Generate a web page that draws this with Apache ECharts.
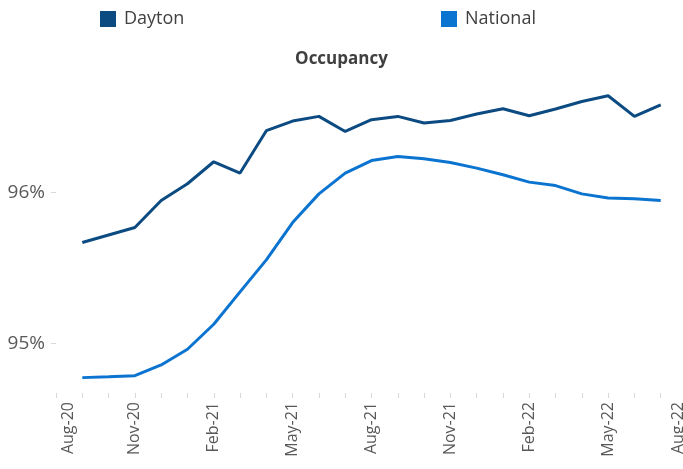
<!DOCTYPE html>
<html>
<head>
<meta charset="utf-8">
<script src="https://cdn.jsdelivr.net/npm/echarts@6/dist/echarts.min.js"></script>
<style>
  html, body { margin: 0; padding: 0; background: #fff; }
  #chart { width: 683px; height: 469px; }
</style>
</head>
<body>
<div id="chart"></div>
<script>
// months Aug-20 .. Aug-22
const months = ['Aug-20', 'Sep-20', 'Oct-20', 'Nov-20', 'Dec-20', 'Jan-21', 'Feb-21', 'Mar-21', 'Apr-21',
  'May-21', 'Jun-21', 'Jul-21', 'Aug-21', 'Sep-21', 'Oct-21', 'Nov-21', 'Dec-21', 'Jan-22', 'Feb-22',
  'Mar-22', 'Apr-22', 'May-22', 'Jun-22', 'Jul-22', 'Aug-22'];

// occupancy, %
const dayton = [null, 95.668, 95.718, 95.768, 95.947, 96.058, 96.204, 96.129, 96.41,
  96.474, 96.505, 96.405, 96.483, 96.505, 96.461, 96.478, 96.521, 96.556, 96.509,
  96.554, 96.604, 96.642, 96.505, 96.582, null];
const national = [null, 94.772, 94.778, 94.785, 94.856, 94.96, 95.126, 95.341, 95.553,
  95.801, 95.991, 96.129, 96.212, 96.239, 96.224, 96.199, 96.162, 96.118, 96.069,
  96.046, 95.991, 95.963, 95.958, 95.947, null];

const yTicks = [95, 96];

const chart = echarts.init(document.getElementById('chart'));

const font = '"Open Sans", "Noto Sans", sans-serif';
const grey = '#595959';
const tickColor = '#d9d9d9';

let option = {
  animation: false,
  textStyle: { fontFamily: font },
  title: {
    text: 'Occupancy',
    left: 'center',
    top: 46,
    textStyle: { fontSize: 17, fontWeight: 'bold', color: '#404040', fontFamily: font }
  },
  legend: [
    {
      data: ['Dayton'],
      left: 100,
      top: 10,
      padding: 0,
      icon: 'rect',
      itemWidth: 16,
      itemHeight: 16,
      textStyle: { fontSize: 18, color: '#404040', padding: [0, 0, 0, 3] }
    },
    {
      data: ['National'],
      left: 441,
      top: 10,
      padding: 0,
      icon: 'rect',
      itemWidth: 16,
      itemHeight: 16,
      textStyle: { fontSize: 18, color: '#404040', padding: [0, 0, 0, 3] }
    }
  ],
  grid: { left: 56, right: -4, top: 87, bottom: 76, outerBoundsMode: 'none', containLabel: false },
  xAxis: {
    type: 'category',
    data: months,
    boundaryGap: false,
    axisLine: { show: false },
    axisTick: { show: true, interval: 0, length: 5, lineStyle: { color: tickColor } },
    axisLabel: {
      interval: 2,
      rotate: 90,
      margin: 9,
      fontSize: 16,
      color: grey,
      formatter: function (v, i) {
        if (i === 0) return '{first|' + v + '}';
        if (i === months.length - 1) return '{last|' + v + '}';
        return v;
      },
      rich: {
        first: { fontSize: 16, color: grey, padding: [24, 0, 0, 0] },
        last: { fontSize: 16, color: grey, padding: [0, 0, 18, 0] }
      }
    },
    splitLine: { show: false }
  },
  yAxis: {
    type: 'value',
    min: 94.67,
    max: 96.7,
    axisLine: { show: false },
    axisTick: { show: true, customValues: yTicks, length: 5, lineStyle: { color: tickColor } },
    axisLabel: {
      customValues: yTicks,
      margin: 11,
      fontSize: 19,
      color: grey,
      formatter: function (v) { return Math.round(v) + '%'; }
    },
    splitLine: { show: false }
  },
  series: [
    {
      name: 'Dayton',
      type: 'line',
      data: dayton,
      symbol: 'none',
      itemStyle: { color: '#0C4A82' },
      lineStyle: { width: 3, color: '#0C4A82' }
    },
    {
      name: 'National',
      type: 'line',
      data: national,
      symbol: 'none',
      itemStyle: { color: '#0B74D0' },
      lineStyle: { width: 3, color: '#0B74D0' }
    }
  ]
};

chart.setOption(option);
</script>
</body>
</html>
